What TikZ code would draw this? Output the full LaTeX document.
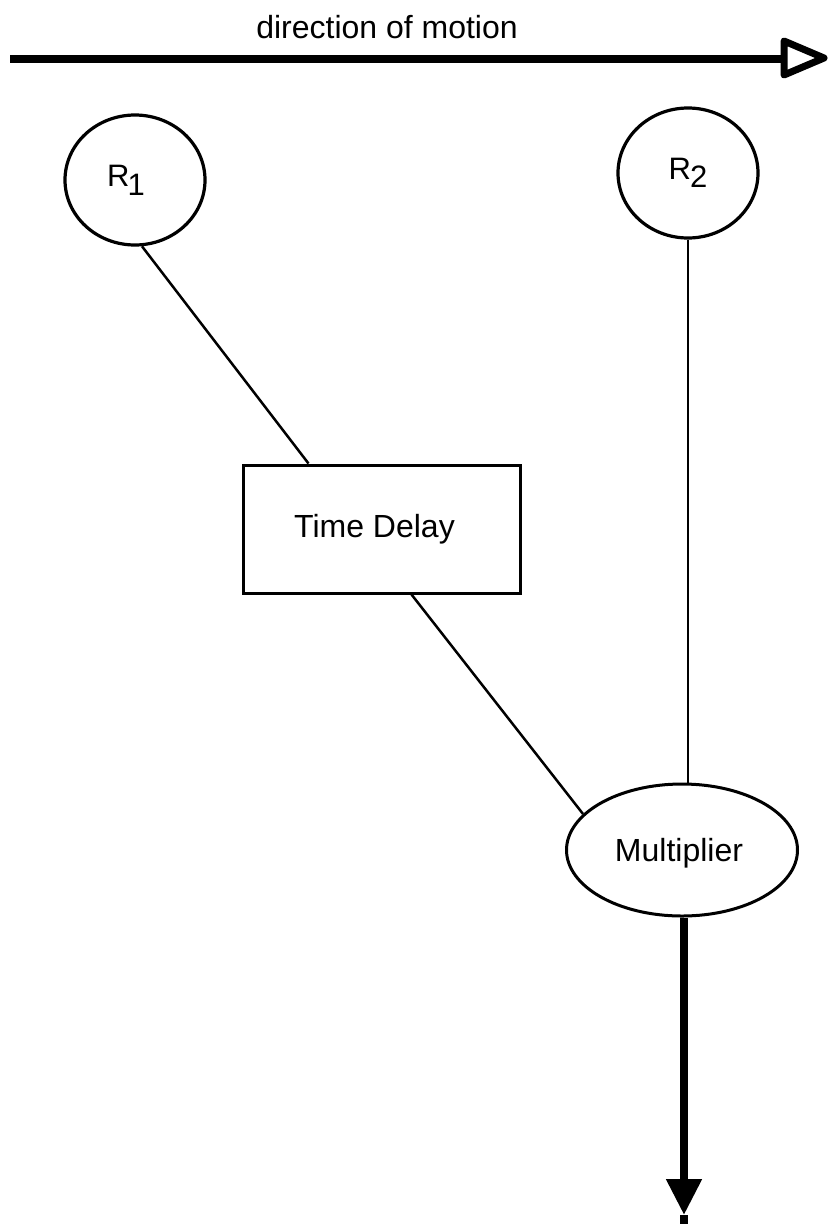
\documentclass[tikz,border=0pt]{standalone}
\usepackage{fontspec}
\setmainfont{Liberation Sans}
\usetikzlibrary{shapes.geometric,arrows.meta,calc}

\begin{document}
\begin{tikzpicture}[x=1pt,y=-1pt,
  labeltext/.style={font=\fontsize{32}{38}\selectfont},
  sensor/.style={draw,ellipse,line width=3.2pt,inner sep=0pt,
    minimum width=140pt,minimum height=130pt,font=\fontsize{31}{36}\selectfont},
  delaybox/.style={draw,rectangle,line width=3pt,inner sep=0pt,
    minimum width=277pt,minimum height=128pt,labeltext},
  multbox/.style={draw,ellipse,line width=3pt,inner sep=0pt,
    minimum width=231pt,minimum height=132pt,labeltext,text depth=0pt},
  link/.style={line width=2.5pt},
  heavy/.style={line width=8pt}]
  \useasboundingbox (0,0) rectangle (829,1224);

  % direction of motion arrow
  \node[labeltext,anchor=base] (dirlabel) at (387,38) {direction of motion};
  \coordinate (dstart) at (10,59);
  \coordinate (dend) at (784,59);
  \draw[heavy] (dstart) -- (dend);
  \draw[line width=7pt,line join=round,fill=white]
    ($(dend)+(0,-18)$) -- ($(dend)+(0,16)$) -- ($(dend)+(40,-1)$) -- cycle;

  % receivers
  \node[sensor] (R1) at (135,180) {\hspace*{-18pt}R\kern-2pt\raisebox{-9pt}{1}};
  \node[sensor] (R2) at (688,173) {R\kern-1pt\raisebox{-8pt}{2}};

  % time delay and multiplier
  \node[delaybox] (delay) at (381.5,529) {\hspace*{-14pt}Time Delay};
  \node[multbox] (mult) at (682,850) {\hspace*{-6pt}Multiplier};

  % connections
  \draw[link] (R1.-84) -- ($(delay.north west)+(67,0)$);
  \draw[link] ($(delay.south west)+(170,0)$) -- (mult.160);
  \draw[link] (R2.south) -- (R2.south |- mult.north);

  % output arrow
  \coordinate (outtip) at (684,1215);
  \coordinate (outend) at (684,1224);
  \draw[heavy,-{Triangle[length=36pt,width=34pt]}] (mult.south -| outtip) -- (outtip);
  \draw[heavy] (outtip) -- (outend);
\end{tikzpicture}
\end{document}
